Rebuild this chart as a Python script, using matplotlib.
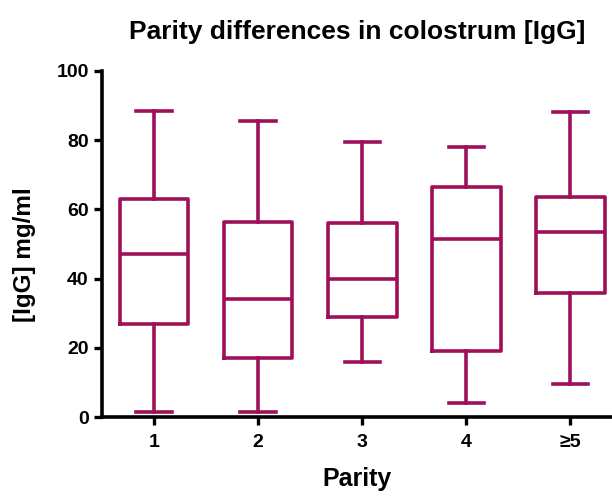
import matplotlib.pyplot as plt

plt.rcParams['font.family'] = ['Liberation Sans', 'DejaVu Sans']
plt.rcParams['font.weight'] = 'bold'

# Box plot summary (min, Q1, median, Q3, max)
parity = ['1', '2', '3', '4', '\u22655']
whisker_low = [1.5, 1.5, 16, 4, 9.5]
q1 = [27, 17, 29, 19, 36]
median = [47, 34, 40, 51.5, 53.5]
q3 = [63, 56.5, 56, 66.5, 63.5]
whisker_high = [88.5, 85.5, 79.5, 78, 88]

color = '#9E1058'

stats = []
for i in range(len(parity)):
    stats.append({'whislo': whisker_low[i], 'q1': q1[i], 'med': median[i],
                  'q3': q3[i], 'whishi': whisker_high[i], 'fliers': [],
                  'label': parity[i]})

fig = plt.figure(figsize=(6.12, 4.96), dpi=100)
ax = fig.add_axes([0.1667, 0.159, 0.8333, 0.698])

line = dict(color=color, linewidth=2.6)
ax.bxp(stats, positions=range(1, len(parity) + 1), widths=0.66,
       boxprops=line, medianprops=line, whiskerprops=line,
       capprops=line, capwidths=0.34, showfliers=False)

ax.set_xlim(0.5, 5.4)
ax.set_ylim(0, 100)
ax.set_yticks([0, 20, 40, 60, 80, 100])
for s in ['top', 'right']:
    ax.spines[s].set_visible(False)
for s in ['left', 'bottom']:
    ax.spines[s].set_linewidth(2.6)
ax.tick_params(width=2.4, length=6, labelsize=14)
ax.tick_params(axis='x', pad=6)
for lab in ax.get_xticklabels() + ax.get_yticklabels():
    lab.set_fontweight('bold')

ax.set_xlabel('Parity', fontsize=18, fontweight='bold', labelpad=12)
ax.set_ylabel('[IgG] mg/ml', fontsize=17.5, fontweight='bold')
ax.yaxis.set_label_coords(-0.13, 0.47)
ax.set_title('Parity differences in colostrum [IgG]', fontsize=19,
             fontweight='bold', pad=23)

fig.savefig('out.png', dpi=100)
